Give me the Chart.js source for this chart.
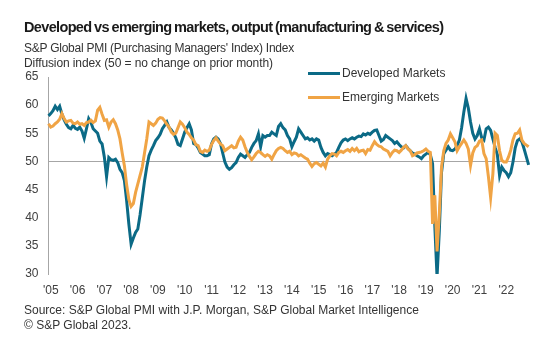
<!DOCTYPE html>
<html>
<head>
<meta charset="utf-8">
<script src="https://cdn.jsdelivr.net/npm/chart.js@4/dist/chart.umd.min.js"></script>
<style>
  html, body { margin: 0; padding: 0; background: #fff; }
  body { width: 544px; height: 355px; position: relative; overflow: hidden; font-family: 'Liberation Sans', Arial, sans-serif; color: #333; }
  #c { position: absolute; left: 0; top: 0; }
  .t { position: absolute; white-space: nowrap; }
  #title { left: 24px; top: 19px; font-size: 14.5px; font-weight: bold; color: #1a1a1a; letter-spacing: -0.65px; word-spacing: -0.8px; }
  #sub1 { left: 24px; top: 41px; font-size: 12px; color: #333; letter-spacing: -0.25px; }
  #sub2 { left: 24px; top: 56px; font-size: 12px; color: #333; letter-spacing: -0.1px; }
  #src1 { left: 24px; top: 303px; font-size: 12px; color: #333; }
  #src2 { left: 24px; top: 318px; font-size: 12px; color: #333; }
  .leg { position: absolute; font-size: 12px; color: #333; white-space: nowrap; }
  .sw { position: absolute; width: 32px; height: 3px; }
</style>
</head>
<body>
<canvas id="c" width="544" height="355"></canvas>
<div class="t" id="title">Developed vs emerging markets, output (manufacturing &amp; services)</div>
<div class="t" id="sub1">S&amp;P Global PMI (Purchasing Managers' Index) Index</div>
<div class="t" id="sub2">Diffusion index (50 = no change on prior month)</div>
<div class="t" id="src1">Source: S&amp;P Global PMI with J.P. Morgan, S&amp;P Global Market Intelligence</div>
<div class="t" id="src2">© S&amp;P Global 2023.</div>
<div class="sw" style="left:308px; top:72px; background:#0b6a86;"></div>
<div class="leg" style="left:342px; top:66px;">Developed Markets</div>
<div class="sw" style="left:308px; top:96px; background:#f0a445;"></div>
<div class="leg" style="left:342px; top:90px;">Emerging Markets</div>
<script>
// Year tick labels (one every 12 months, starting at the second month)
const yearLabels = ["'05","'06","'07","'08","'09","'10","'11","'12","'13","'14","'15","'16","'17","'18","'19","'20","'21","'22"];

// Developed markets composite output index (monthly)
const developed = [
58.1,58.5,59.0,59.8,59.2,59.8,58.4,57.4,56.6,56.0,
55.8,56.4,55.9,55.7,56.1,55.4,54.1,55.8,57.6,56.9,
55.8,55.4,55.0,53.6,53.1,50.8,47.3,50.7,50.3,50.2,
50.4,49.8,48.6,48.0,46.6,43.0,38.8,35.3,36.4,37.4,
38.0,40.5,43.5,46.5,49.0,51.0,52.0,52.8,53.7,54.2,
54.8,55.8,56.4,57.0,56.0,55.6,55.0,54.2,53.0,52.8,
54.0,55.2,56.0,56.7,55.6,53.2,53.0,52.4,51.6,51.3,
51.0,51.0,51.2,53.1,54.0,54.3,54.0,53.2,51.5,49.9,
49.0,48.6,48.9,49.4,49.8,50.7,51.3,51.0,50.7,51.2,
51.6,52.5,53.2,53.7,54.9,52.6,54.6,54.3,54.6,54.6,
55.2,54.9,54.6,56.2,56.7,56.0,55.6,54.6,54.0,52.6,
53.5,54.3,55.8,55.2,54.6,54.0,54.2,53.8,54.0,53.6,
54.0,53.8,52.5,51.6,51.0,51.4,51.2,51.0,51.3,51.6,
52.5,53.3,53.8,54.0,53.7,54.0,54.2,54.0,54.3,54.5,
54.4,54.9,54.7,55.0,54.8,55.2,55.5,55.6,54.6,53.6,
53.9,54.6,54.3,54.0,53.7,53.2,53.5,53.0,52.6,52.4,
52.8,52.3,51.9,51.5,51.3,51.0,50.8,50.5,51.0,51.3,
51.6,51.2,49.6,38.5,29.5,37.5,48.0,51.4,52.0,52.6,
52.0,51.9,52.2,52.8,53.8,56.0,58.8,61.2,59.5,57.0,
55.0,54.0,54.6,55.8,54.2,53.8,55.8,56.1,55.5,54.0,
52.5,51.2,47.5,49.0,48.4,48.0,47.3,48.0,49.9,52.4,
53.7,54.0,53.5,52.2,50.8,49.4
];

// Emerging markets composite output index (monthly)
const emerging = [
56.7,56.1,56.3,56.7,57.0,57.5,58.5,57.6,57.0,57.2,
57.3,56.8,56.7,57.0,56.6,56.7,56.4,56.9,57.0,57.3,
56.9,57.2,59.1,59.6,58.4,57.3,57.4,56.1,57.0,57.4,
56.7,55.6,54.0,51.5,49.2,45.8,43.2,42.0,42.5,44.5,
46.0,47.5,49.0,51.5,54.0,57.0,56.7,56.4,56.8,57.5,
57.8,57.7,57.2,56.6,56.1,55.2,54.8,55.0,56.0,57.0,
56.6,56.0,55.2,54.8,54.2,53.8,53.0,52.8,51.8,51.6,
52.0,51.8,52.0,53.0,53.7,54.2,53.6,53.1,52.8,51.9,
52.2,52.5,52.8,52.4,52.5,53.6,54.3,53.8,52.6,51.6,
50.9,50.3,50.8,51.4,51.8,51.6,51.2,50.9,51.2,51.0,
50.4,51.2,51.9,52.3,52.5,52.3,51.9,51.6,51.8,51.2,
51.5,51.4,51.0,51.2,50.9,50.6,50.4,49.7,49.1,49.6,
49.8,49.5,49.2,49.7,49.0,50.4,51.0,51.4,51.3,51.0,
51.6,51.8,51.6,51.9,52.1,51.8,52.3,51.9,52.3,51.7,
51.9,52.0,51.4,52.1,52.0,52.8,53.5,53.0,52.7,52.6,
52.2,52.0,51.8,51.0,51.6,52.0,51.9,51.6,52.0,52.5,
52.8,52.2,51.9,51.0,51.2,51.5,51.6,51.7,51.9,52.2,
51.8,51.6,38.9,44.0,34.0,40.5,49.0,51.9,53.2,53.8,
54.9,54.2,53.5,51.9,52.6,53.2,53.8,53.2,52.2,49.3,
51.5,52.5,52.8,53.6,53.8,51.4,50.5,47.3,43.6,47.8,
55.0,54.6,51.9,50.2,49.9,49.9,50.8,52.0,53.8,54.9,
55.0,55.6,53.8,53.2,52.9,52.6
];

// Monthly categories: a year label at every 12th month, blanks elsewhere
const months = developed.map((_, i) => ((i - 1) % 12 === 0 && i >= 1) ? yearLabels[(i - 1) / 12] : '');

Chart.defaults.font.family = "'Liberation Sans', Arial, sans-serif";
Chart.defaults.font.size = 12;
Chart.defaults.color = '#404040';

new Chart(document.getElementById('c'), {
  type: 'line',
  data: {
    labels: months,
    datasets: [
      { label: 'Developed Markets', data: developed, borderColor: '#0b6a86', backgroundColor: '#0b6a86', borderWidth: 3, pointRadius: 0, tension: 0, order: 1 },
      { label: 'Emerging Markets', data: emerging, borderColor: '#f0a445', backgroundColor: '#f0a445', borderWidth: 3, pointRadius: 0, tension: 0, order: 0 }
    ]
  },
  options: {
    responsive: false,
    animation: false,
    events: [],
    layout: { padding: { left: 0, right: 15.4, top: 77, bottom: 0 } },
    plugins: { legend: { display: false }, tooltip: { enabled: false }, title: { display: false } },
    scales: {
      x: {
        grid: { display: false, drawTicks: false },
        border: { display: false },
        ticks: { autoSkip: false, maxRotation: 0, minRotation: 0, padding: 9, color: '#404040', font: { size: 12 } },
        afterFit: (s) => { s.height = 81; }
      },
      y: {
        min: 30, max: 65,
        grid: { drawTicks: false, lineWidth: 1, color: (ctx) => (ctx.tick && ctx.tick.value === 50) ? '#a6a6a6' : 'rgba(0,0,0,0)' },
        border: { display: true, color: '#a6a6a6', width: 1 },
        ticks: { stepSize: 5, padding: 10, color: '#404040', font: { size: 12 } },
        afterFit: (s) => { s.width = 48.5; }
      }
    }
  }
});
</script>
</body>
</html>
